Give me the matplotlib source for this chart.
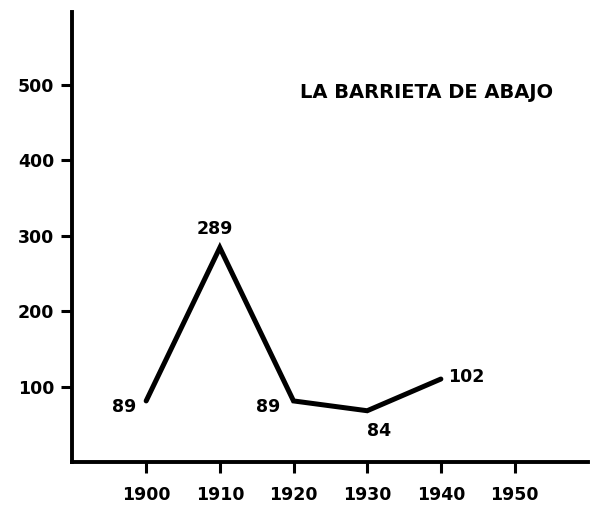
import matplotlib.pyplot as plt

# population of La Barrieta de Abajo (line positions, labels as printed)
years = [1900, 1910, 1920, 1930, 1940]
values = [81, 284, 81, 68, 110]
labels = ["89", "289", "89", "84", "102"]
label_offsets = [(-22, -6), (-5, 19), (-25, -6), (12, -20), (25, 2)]

xticks = [1900, 1910, 1920, 1930, 1940, 1950]
yticks = [100, 200, 300, 400, 500]
title = "LA BARRIETA DE ABAJO"

plt.rcParams['font.family'] = ['DejaVu Sans']

fig = plt.figure(figsize=(5.99, 5.05), dpi=100)
ax = fig.add_axes([0.121, 0.085, 0.861, 0.891])

ax.plot(years, values, color='black', linewidth=3.6, solid_capstyle='round',
        solid_joinstyle='miter')

for x, y, lab, (dx, dy) in zip(years, values, labels, label_offsets):
    ax.annotate(lab, (x, y), xytext=(dx, dy), textcoords='offset pixels',
                ha='center', va='center', fontsize=12.5, fontweight='bold')

ax.text(1920.9, 490, title, ha='left', va='center', fontsize=14,
        fontweight='bold')

ax.set_xlim(1890, 1960)
ax.set_ylim(0, 596)
ax.set_xticks(xticks)
ax.set_yticks(yticks)
ax.set_xticklabels([str(t) for t in xticks], fontsize=12.5, fontweight='bold')
ax.set_yticklabels([str(t) for t in yticks], fontsize=12.5, fontweight='bold')
ax.tick_params(axis='both', direction='out', length=8, width=2.2)
ax.tick_params(axis='x', pad=9)
ax.tick_params(axis='y', pad=5)

for side in ['top', 'right']:
    ax.spines[side].set_visible(False)
for side in ['left', 'bottom']:
    ax.spines[side].set_linewidth(2.8)

fig.savefig("out.png", dpi=100)
